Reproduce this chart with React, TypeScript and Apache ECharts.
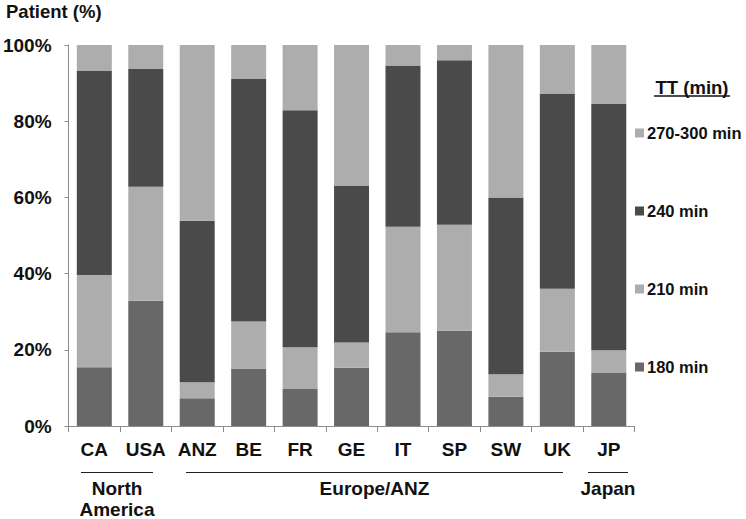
import React, { useEffect, useRef } from "react";
import * as echarts from "echarts";

const categories = ["CA", "USA", "ANZ", "BE", "FR", "GE", "IT", "SP", "SW", "UK", "JP"];
const min180 = [15.4, 32.9, 7.3, 15.1, 9.7, 15.3, 24.6, 25.0, 7.7, 19.5, 13.9];
const min210 = [24.2, 29.9, 4.2, 12.3, 11.0, 6.6, 27.7, 27.8, 5.9, 16.5, 6.0];
const min240 = [53.6, 30.9, 42.4, 63.7, 62.2, 41.1, 42.3, 43.2, 46.4, 51.3, 64.6];
const min270 = [6.8, 6.3, 46.1, 8.9, 17.1, 37.0, 5.4, 4.0, 40.0, 12.7, 15.5];
const seriesNames = ["180 min", "210 min", "240 min", "270-300 min"];
const yTicks = [0, 20, 40, 60, 80, 100];
const groups = [
  { name: "North\nAmerica", x1: 81, x2: 153 },
  { name: "Europe/ANZ", x1: 186, x2: 563 },
  { name: "Japan", x1: 588, x2: 628 },
];

const FONT = "'Liberation Sans', Arial, sans-serif";

export default function App() {
  const ref = useRef<HTMLDivElement>(null);
  useEffect(() => {
    if (!ref.current) return;
    const chart = echarts.init(ref.current, undefined, { renderer: "svg" });
    const colors = ["#686868", "#adadad", "#4a4a4a", "#adadad"];
    const data = [min180, min210, min240, min270];
    const series = data.map((d, i) => ({
      name: seriesNames[i],
      type: "bar",
      stack: "total",
      data: d,
      barCategoryGap: "32%",
      itemStyle: { color: colors[i] },
    }));
    const graphics: any[] = [
      {
        type: "text",
        x: 6,
        y: 11.5,
        style: {
          text: "Patient (%)",
          font: `bold 18.5px ${FONT}`,
          fill: "#111",
          verticalAlign: "middle",
        },
      },
      {
        type: "text",
        x: 692,
        y: 87,
        style: {
          text: "TT (min)",
          font: `bold 18.5px ${FONT}`,
          fill: "#111",
          align: "center",
          verticalAlign: "middle",
        },
      },
      {
        type: "line",
        shape: { x1: 654, y1: 96, x2: 730, y2: 96 },
        style: { stroke: "#111", lineWidth: 1.3 },
      },
    ];
    groups.forEach((g) => {
      graphics.push({
        type: "line",
        shape: { x1: g.x1, y1: 472.5, x2: g.x2, y2: 472.5 },
        style: { stroke: "#222", lineWidth: 1 },
      });
      graphics.push({
        type: "text",
        x: (g.x1 + g.x2) / 2,
        y: 478,
        style: {
          text: g.name,
          font: `bold 19px ${FONT}`,
          fill: "#111",
          align: "center",
          verticalAlign: "top",
          lineHeight: 21,
        },
      });
    });
    chart.setOption({
      animation: false,
      grid: { left: 65, right: 111.5, top: 45, bottom: 93, containLabel: false },
      legend: {
        data: [...seriesNames].reverse(),
        orient: "vertical",
        left: 630,
        top: 119,
        itemWidth: 9,
        itemHeight: 9,
        itemGap: 60,
        icon: "rect",
        selectedMode: false,
        textStyle: {
          fontFamily: FONT,
          fontWeight: "bold",
          fontSize: 16.5,
          color: "#111",
          lineHeight: 18,
          padding: [0, 0, 0, -2],
        },
      },
      xAxis: {
        type: "category",
        data: categories,
        axisLine: { lineStyle: { color: "#8c8c8c", width: 1 } },
        axisTick: { show: true, length: 6, interval: 0, lineStyle: { color: "#8c8c8c" } },
        axisLabel: {
          fontFamily: FONT,
          fontWeight: "bold",
          fontSize: 19,
          color: "#111",
          margin: 14,
          interval: 0,
        },
      },
      yAxis: {
        type: "value",
        min: yTicks[0],
        max: yTicks[yTicks.length - 1],
        interval: 20,
        axisLine: { show: true, lineStyle: { color: "#8c8c8c", width: 1 } },
        axisTick: { show: true, length: 4, lineStyle: { color: "#8c8c8c" } },
        splitLine: { show: false },
        axisLabel: {
          formatter: "{value}%",
          fontFamily: FONT,
          fontWeight: "bold",
          fontSize: 19,
          color: "#111",
          margin: 17,
        },
      },
      series,
      graphic: graphics,
    });
    return () => chart.dispose();
  }, []);
  return <div ref={ref} style={{ width: 746, height: 519, position: "absolute", left: 0, top: 0 }} />;
}
